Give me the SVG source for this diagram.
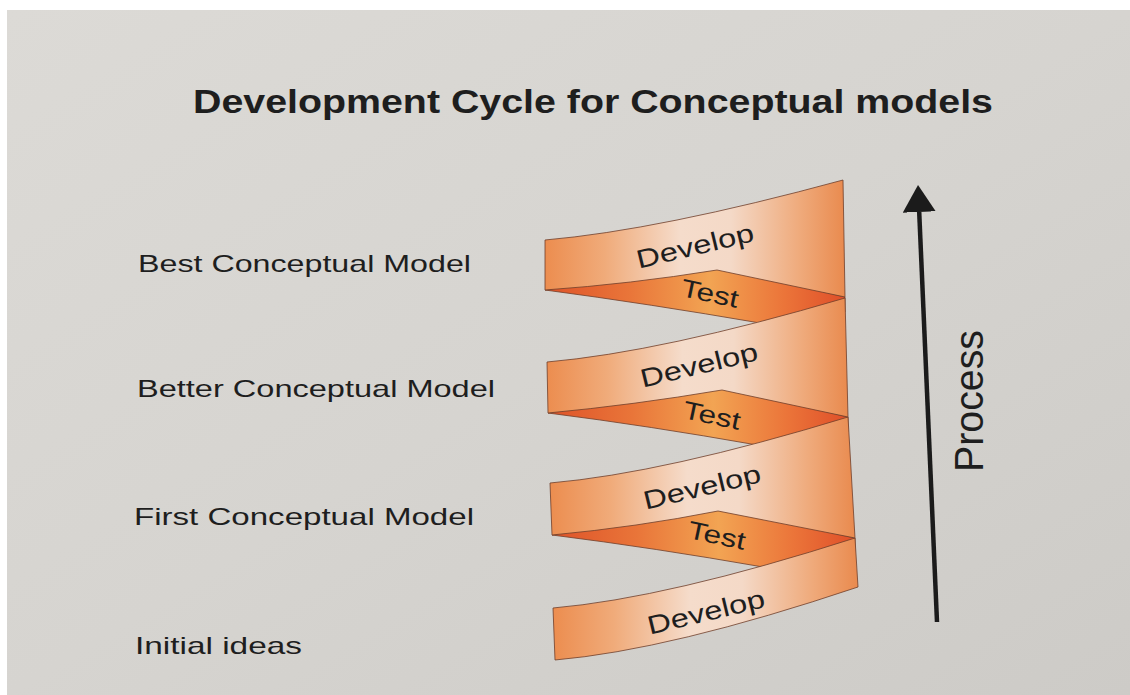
<svg xmlns="http://www.w3.org/2000/svg" width="1130" height="695" viewBox="0 0 1130 695">
  <defs>
    <linearGradient id="paper" x1="0" y1="0" x2="1" y2="1">
      <stop offset="0" stop-color="#dcdad6"/>
      <stop offset="0.5" stop-color="#d6d4d0"/>
      <stop offset="1" stop-color="#cdcbc7"/>
    </linearGradient>
    <linearGradient id="develop" x1="0" y1="0" x2="1" y2="0">
      <stop offset="0" stop-color="#ec8d4f"/>
      <stop offset="0.2" stop-color="#f0ab7a"/>
      <stop offset="0.45" stop-color="#f5dccb"/>
      <stop offset="0.62" stop-color="#f4d9c7"/>
      <stop offset="0.85" stop-color="#efaa7b"/>
      <stop offset="1" stop-color="#e98a4e"/>
    </linearGradient>
    <linearGradient id="test" x1="0" y1="0" x2="1" y2="0">
      <stop offset="0" stop-color="#de5329"/>
      <stop offset="0.28" stop-color="#e97539"/>
      <stop offset="0.55" stop-color="#f2a453"/>
      <stop offset="0.8" stop-color="#eb7439"/>
      <stop offset="1" stop-color="#df4f29"/>
    </linearGradient>
    <marker id="head" markerUnits="userSpaceOnUse" markerWidth="28" markerHeight="34" refX="0" refY="16.5" orient="auto">
      <path d="M0,0 L27,16.5 L0,33 Z" fill="#1b1b1b"/>
    </marker>
    <style>
      .band { stroke: #6e3d2a; stroke-width: 0.8; stroke-linejoin: round; }
      .dev { fill: url(#develop); }
      .tst { fill: url(#test); }
      .lbl { font-family: "Liberation Sans", Arial, sans-serif; font-size: 24px; fill: #1e1e1e; }
      .rib { font-family: "Liberation Sans", Arial, sans-serif; fill: #1e1e1e; text-anchor: middle; }
    </style>
  </defs>

  <!-- paper -->
  <rect x="0" y="0" width="1130" height="695" fill="#ffffff"/>
  <rect x="7" y="10" width="1123" height="685" fill="url(#paper)"/>

  <!-- title -->
  <text id="title" x="193" y="113" font-family="Liberation Sans, Arial, sans-serif" font-weight="bold" font-size="34" fill="#1e1e1e" textLength="800" lengthAdjust="spacingAndGlyphs">Development Cycle for Conceptual models</text>

  <!-- stage labels -->
  <g id="label-best"><text class="lbl" x="138" y="272" textLength="333" lengthAdjust="spacingAndGlyphs">Best Conceptual Model</text></g>
  <g id="label-better"><text class="lbl" x="137" y="397" textLength="358" lengthAdjust="spacingAndGlyphs">Better Conceptual Model</text></g>
  <g id="label-first"><text class="lbl" x="134" y="525" textLength="340" lengthAdjust="spacingAndGlyphs">First Conceptual Model</text></g>
  <g id="label-initial"><text class="lbl" x="135" y="654" textLength="167" lengthAdjust="spacingAndGlyphs">Initial ideas</text></g>

  <!-- test segments sit behind the develop segments -->
  <g id="test-1">
    <path class="band tst" d="M545,290 L705,262 L845,297 L845,312 L760,323 Q650,304 545,290 Z"/>
    <text class="rib" font-size="25" textLength="58" lengthAdjust="spacingAndGlyphs" transform="translate(710,293) rotate(12)" dy="9">Test</text>
  </g>
  <g id="test-2">
    <path class="band tst" d="M548,413 L710,383 L848,417 L848,432 L757,445 Q650,426 548,413 Z"/>
    <text class="rib" font-size="25" textLength="58" lengthAdjust="spacingAndGlyphs" transform="translate(712,415) rotate(12)" dy="9">Test</text>
  </g>
  <g id="test-3">
    <path class="band tst" d="M552,535 L706,504 L855,538 L855,553 L763,567 Q655,548 552,535 Z"/>
    <text class="rib" font-size="25" textLength="58" lengthAdjust="spacingAndGlyphs" transform="translate(717,535) rotate(12)" dy="9">Test</text>
  </g>

  <!-- develop segments -->
  <g id="develop-4">
    <path class="band dev" d="M553,608 Q668,598 855,538 L858,587 Q670,650 555,660 Z"/>
    <text class="rib" font-size="26" textLength="120" lengthAdjust="spacingAndGlyphs" transform="translate(706,612) rotate(-13.5)" dy="9">Develop</text>
  </g>
  <g id="develop-3">
    <path class="band dev" d="M550,483 Q665,473 848,417 L855,538 L718,511 Q637,527 552,535 Z"/>
    <text class="rib" font-size="26" textLength="120" lengthAdjust="spacingAndGlyphs" transform="translate(702,487) rotate(-13.5)" dy="9">Develop</text>
  </g>
  <g id="develop-2">
    <path class="band dev" d="M547,362 Q662,352 845,298 L848,417 L722,390 Q633,405 548,413 Z"/>
    <text class="rib" font-size="26" textLength="120" lengthAdjust="spacingAndGlyphs" transform="translate(699,365) rotate(-13.5)" dy="9">Develop</text>
  </g>
  <g id="develop-1">
    <path class="band dev" d="M545,240 Q660,230 843,180 L845,297 L717,270 Q630,284 545,290 Z"/>
    <text class="rib" font-size="26" textLength="120" lengthAdjust="spacingAndGlyphs" transform="translate(695,246) rotate(-13.5)" dy="9">Develop</text>
  </g>

  <!-- process axis -->
  <g id="connectors">
    <line x1="937" y1="622" x2="919.2" y2="212" stroke="#1b1b1b" stroke-width="4.5" marker-end="url(#head)"/>
  </g>
  <g id="label-process">
    <text font-family="Liberation Sans, Arial, sans-serif" font-size="40" fill="#1e1e1e" text-anchor="middle" textLength="142" lengthAdjust="spacingAndGlyphs" transform="translate(969,401) rotate(-90)" dy="14">Process</text>
  </g>
</svg>
